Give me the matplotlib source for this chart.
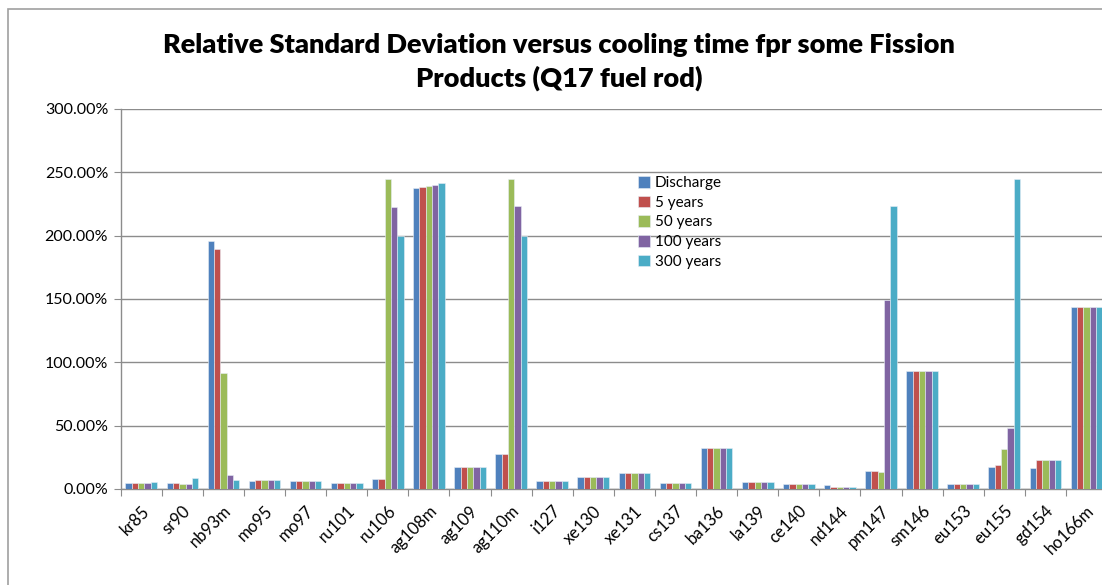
import matplotlib
matplotlib.use("Agg")
import matplotlib.pyplot as plt
import numpy as np
from matplotlib.ticker import FuncFormatter, MultipleLocator
from matplotlib.patches import Rectangle

categories = ["kr85", "sr90", "nb93m", "mo95", "mo97", "ru101", "ru106", "ag108m",
              "ag109", "ag110m", "i127", "xe130", "xe131", "cs137", "ba136", "la139",
              "ce140", "nd144", "pm147", "sm146", "eu153", "eu155", "gd154", "ho166m"]

discharge = [5.0, 4.7, 195.6, 6.6, 6.6, 5.0, 7.9, 237.9, 17.1, 27.3, 6.3, 9.5, 12.9, 5.0,
             32.0, 5.5, 4.2, 3.4, 14.2, 93.2, 3.7, 17.6, 16.5, 143.4]
years5 = [5.0, 4.7, 189.6, 7.4, 6.6, 5.0, 8.1, 238.2, 17.1, 27.3, 6.3, 9.5, 12.9, 5.0,
          32.0, 5.5, 4.2, 1.3, 14.2, 93.2, 3.7, 18.6, 22.6, 143.4]
years50 = [5.0, 3.9, 91.4, 7.4, 6.6, 5.0, 244.5, 239.0, 17.1, 244.5, 6.3, 9.5, 12.9, 5.0,
           32.0, 5.5, 4.2, 1.3, 13.7, 93.2, 3.7, 31.2, 23.1, 143.4]
years100 = [5.0, 3.9, 10.8, 7.4, 6.6, 5.0, 222.9, 239.8, 17.1, 223.5, 6.3, 9.5, 12.9, 5.0,
            32.0, 5.5, 4.2, 1.3, 148.9, 93.2, 3.7, 47.8, 23.1, 143.4]
years300 = [5.5, 8.7, 7.4, 7.4, 6.6, 5.0, 199.8, 241.6, 17.1, 199.8, 6.3, 9.5, 12.9, 5.0,
            32.0, 5.5, 4.2, 1.3, 223.2, 93.2, 3.7, 244.5, 23.1, 143.4]

series_names = ["Discharge", "5 years", "50 years", "100 years", "300 years"]
series_values = [discharge, years5, years50, years100, years300]
colors = ["#4F81BD", "#C0504D", "#9BBB59", "#8064A2", "#4BACC6"]

plt.rcParams['font.family'] = ['Lato', 'DejaVu Sans']

W, H = 1102, 585
fig = plt.figure(figsize=(W / 100, H / 100), dpi=100)
fig.patch.set_facecolor("white")

# outer chart border
fig.patches.append(Rectangle((8 / W, -0.05), 1.2, (H - 9) / H + 0.05, transform=fig.transFigure,
                             fill=False, edgecolor="#A0A0A0", linewidth=1.2))

x0, x1 = 120.7, 1107.0
ybot, ytop = 489, 109
ax = fig.add_axes([x0 / W, (H - ybot) / H, (x1 - x0) / W, (ybot - ytop) / H])

n = len(categories)
x = np.arange(n)
bw = 0.154
for i, (name, vals, c) in enumerate(zip(series_names, series_values, colors)):
    ax.bar(x + (i - 2) * bw, vals, width=bw, color=c, label=name,
           edgecolor="#E8EEF6", linewidth=0.4, zorder=3)

ax.set_xlim(-0.5, n - 0.5)
ax.set_ylim(0, 300)
ax.yaxis.set_major_locator(MultipleLocator(50))
ax.yaxis.set_major_formatter(FuncFormatter(lambda v, p: f"{v:.2f}%"))
ax.grid(axis="y", color="#8C8C8C", linewidth=1.0, zorder=0)
ax.set_axisbelow(True)

ax.set_xticks(np.arange(n + 1) - 0.5, minor=False)
ax.set_xticklabels([])
ax.set_xticks(x, minor=True)
ax.set_xticklabels(categories, minor=True, rotation=45, ha="right", va="top",
                   rotation_mode="anchor", fontsize=12)
ax.tick_params(axis="x", which="minor", length=0, pad=10)
ax.tick_params(axis="x", which="major", length=5, color="#8C8C8C", direction="out")
ax.tick_params(axis="y", length=5, color="#8C8C8C", direction="out", labelsize=11.5, pad=4)

for s in ["top", "right"]:
    ax.spines[s].set_visible(False)
for s in ["left", "bottom"]:
    ax.spines[s].set_color("#8C8C8C")
    ax.spines[s].set_linewidth(1.0)

fig.text(559 / W, 1 - 45 / H, "Relative Standard Deviation versus cooling time fpr some Fission",
         ha="center", va="center", fontsize=19.5, fontweight="heavy")
fig.text(559 / W, 1 - 78 / H, "Products (Q17 fuel rod)",
         ha="center", va="center", fontsize=19.5, fontweight="heavy")

leg = fig.legend(loc="upper left", bbox_to_anchor=(638 / W, 1 - 176 / H), frameon=False,
                 fontsize=11, handlelength=0.8, handleheight=0.8, handletextpad=0.3,
                 labelspacing=0.36, borderpad=0, borderaxespad=0)

fig.savefig("out.png", dpi=100, facecolor="white")
